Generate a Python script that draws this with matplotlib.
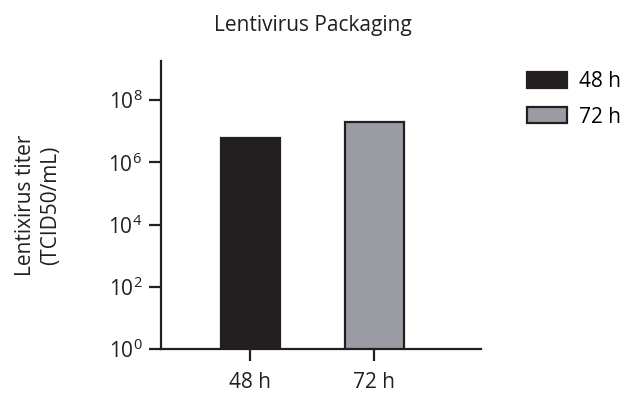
import math
import matplotlib.pyplot as plt
from matplotlib.ticker import FixedLocator, FuncFormatter

plt.rcParams['font.family'] = ['Open Sans', 'DejaVu Sans']
plt.rcParams['mathtext.fontset'] = 'custom'
plt.rcParams['mathtext.rm'] = 'Open Sans'
plt.rcParams['mathtext.it'] = 'Open Sans:italic'

# Titer per harvest time
times = ['48 h', '72 h']
titers = [6.2e6, 2.0e7]
colors = ['#231f20', '#9b9ba3']
edge = '#231f20'
ytick_exps = [0, 2, 4, 6, 8]

fig = plt.figure(figsize=(6.26, 3.95), dpi=100)
ax = fig.add_axes([161 / 626, 1 - 349 / 395, (481 - 161) / 626, (349 - 61) / 395])

x = list(range(len(times)))
bars = ax.bar(x, titers, width=0.48, color=colors, edgecolor=edge, linewidth=1.6,
              zorder=2)

ax.set_yscale('log')
ax.set_ylim(1, 10 ** 9.26)
ax.set_xlim(-0.72, 1.86)
ax.yaxis.set_major_locator(FixedLocator([10 ** e for e in ytick_exps]))
ax.yaxis.set_minor_locator(FixedLocator([]))
ax.yaxis.set_major_formatter(
    FuncFormatter(lambda v, p: r'$\mathregular{10^{%d}}$' % round(math.log10(v))))
ax.set_xticks(x)
ax.set_xticklabels(times)

for s in ['top', 'right']:
    ax.spines[s].set_visible(False)
for s in ['left', 'bottom']:
    ax.spines[s].set_linewidth(1.6)
    ax.spines[s].set_color(edge)
ax.tick_params(axis='both', which='major', length=8.5, width=1.6, color=edge,
               labelsize=15, labelcolor='#231f20', pad=5)
ax.tick_params(axis='x', pad=8)

ax.set_ylabel('Lentixirus titer\n(TCID50/mL)', fontsize=15, color='#231f20',
              va='center', linespacing=1.25)
ax.yaxis.set_label_coords((38 - 161) / 320, 0.5)
fig.text(313 / 626, 1 - 26 / 395, 'Lentivirus Packaging', ha='center', va='center',
         fontsize=15, color='#231f20')

fig.legend(handles=list(bars), labels=times, loc='upper left',
           bbox_to_anchor=(527 / 626, 1 - 71 / 395), frameon=False, fontsize=15,
           handlelength=1.9, handleheight=0.8, labelspacing=0.7, handletextpad=0.6,
           borderaxespad=0, borderpad=0)

fig.savefig('out.png', dpi=100)
